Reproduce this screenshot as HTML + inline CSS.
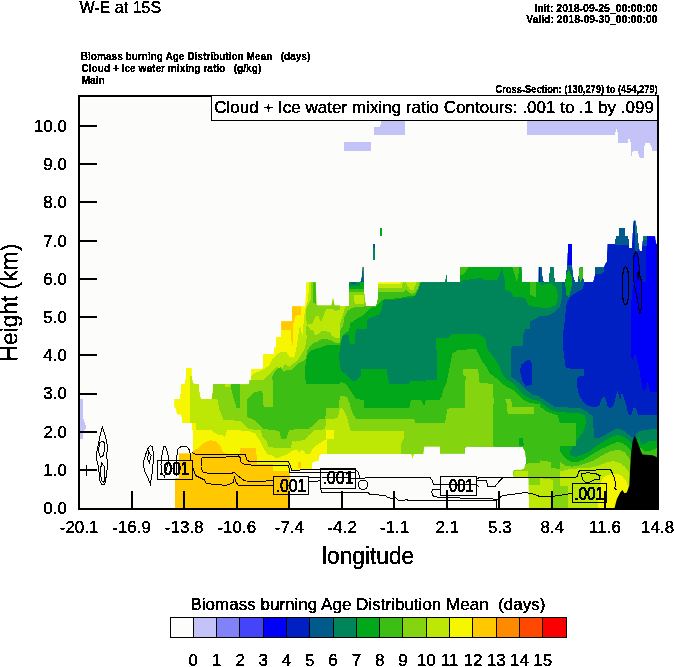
<!DOCTYPE html>
<html><head><meta charset="utf-8">
<style>
html,body{margin:0;padding:0;background:#fff;width:674px;height:667px;overflow:hidden}
svg{display:block;will-change:transform}
text{font-family:"Liberation Sans",sans-serif;fill:#000;stroke:#000;stroke-width:0.35px;white-space:pre;filter:url(#bin)}
</style></head><body>
<svg width="674" height="667" viewBox="0 0 674 667">
<defs><filter id="bin" x="-0.05" y="-0.25" width="1.1" height="1.5"><feComponentTransfer><feFuncA type="discrete" tableValues="0 1"/></feComponentTransfer></filter></defs>
<!-- titles -->
<text id="t_title" x="79.40" y="13" font-size="17" textLength="81.83" lengthAdjust="spacingAndGlyphs">W-E at 15S</text>
<text style="stroke-width:0.3px" id="t_init" x="534.30" y="11.6" font-size="11.5" font-weight="bold" textLength="123.20" lengthAdjust="spacingAndGlyphs">Init: 2018-09-25_00:00:00</text>
<text style="stroke-width:0.3px" id="t_valid" x="526.13" y="23.4" font-size="11.5" font-weight="bold" textLength="131.37" lengthAdjust="spacingAndGlyphs">Valid: 2018-09-30_00:00:00</text>
<text style="stroke-width:0.3px" id="t_l1" x="80.80" y="59.5" font-size="11" font-weight="bold" textLength="229.54" lengthAdjust="spacingAndGlyphs">Biomass burning Age Distribution Mean   (days)</text>
<text style="stroke-width:0.3px" id="t_l2" x="81.40" y="71.7" font-size="11" font-weight="bold" textLength="179.90" lengthAdjust="spacingAndGlyphs">Cloud + Ice water mixing ratio   (g/kg)</text>
<text style="stroke-width:0.3px" id="t_l3" x="81.40" y="83.9" font-size="11" font-weight="bold" textLength="23.44" lengthAdjust="spacingAndGlyphs">Main</text>
<text style="stroke-width:0.3px" id="t_cross" x="495.62" y="92.7" font-size="10" font-weight="bold" textLength="162.08" lengthAdjust="spacingAndGlyphs">Cross-Section: (130,279) to (454,279)</text>

<!-- plot background -->
<rect x="79" y="96" width="579" height="413" fill="#fcfcfa"/>

<g id="plotfill">
<defs>
<clipPath id="blob"><polygon points="0,0 674,0 674,667 0,667"/></clipPath>
<clipPath id="t0"><rect x="170" y="360" width="70" height="70"/></clipPath>
<clipPath id="u0"><polygon points="185.9,367.9 191.8,367.9 191.8,375.7 192.6,381.0 194.1,384.1 198.9,384.1 199.4,391.5 201.0,398.8 211.4,398.8 212.5,393.6 213.0,384.1 240.0,384.1 240.0,430.0 192.0,430.0 192.0,423.0 182.1,423.0 181.5,417.7 181.0,414.6 176.8,414.6 175.8,407.7 174.2,407.7 174.2,398.8 180.0,398.8 180.0,393.6 181.0,393.6 181.0,384.1 184.7,384.1 184.7,379.4 185.9,379.4"/></clipPath>
<clipPath id="t1"><rect x="170" y="430" width="70" height="80"/></clipPath>
<clipPath id="u1"><polygon points="192.8,430.0 240.0,430.0 240.0,510.0 175.0,510.0 175.0,478.0 179.0,478.0 179.0,453.4 192.8,453.4"/></clipPath>
<clipPath id="t2"><rect x="240" y="280" width="100" height="100"/></clipPath>
<clipPath id="u2"><polygon points="250.5,380.0 251.2,368.5 262.5,368.5 263.2,353.5 273.7,353.5 274.5,346.7 276.0,346.7 276.0,337.0 280.5,337.0 281.2,331.0 281.2,321.2 291.7,321.2 291.7,306.2 305.2,306.2 306.0,282.2 315.7,282.2 316.5,305.5 331.5,305.5 333.0,298.0 334.5,305.5 340.0,305.5 340.0,380.0"/></clipPath>
<clipPath id="t3"><rect x="240" y="380" width="100" height="90"/></clipPath>
<clipPath id="u3"><polygon points="240.0,384.2 248.9,384.2 249.6,380.0 340.0,380.0 340.0,454.2 321.0,454.2 319.5,455.7 319.2,460.6 312.6,462.3 312.0,470.1 240.0,470.1"/></clipPath>
<clipPath id="t4"><rect x="240" y="470" width="100" height="40"/></clipPath>
<clipPath id="u4"><polygon points="240.0,470.0 289.8,470.0 289.8,510.0 240.0,510.0"/></clipPath>
<clipPath id="t5"><rect x="340" y="260" width="100" height="100"/></clipPath>
<clipPath id="u5"><polygon points="340.0,305.7 349.0,305.7 349.0,282.2 360.2,282.2 361.7,276.5 362.5,266.7 363.7,266.7 364.0,282.2 364.7,297.5 366.2,305.7 376.0,305.7 377.5,299.7 378.2,282.2 440.0,282.2 440.0,360.0 340.0,360.0"/></clipPath>
<clipPath id="t6"><rect x="440" y="260" width="100" height="100"/></clipPath>
<clipPath id="u6"><polygon points="440.0,281.7 445.2,281.7 446.0,275.0 446.7,275.0 447.5,281.7 459.5,281.7 460.2,267.0 521.7,267.0 522.5,281.7 538.2,281.7 538.5,267.0 540.0,267.0 540.0,360.0 440.0,360.0"/></clipPath>
<clipPath id="t7"><rect x="340" y="350" width="100" height="110"/></clipPath>
<clipPath id="u7"><polygon points="340.0,350.0 440.0,350.0 440.0,446.5 424.2,446.5 423.3,454.0 414.3,454.0 412.6,458.9 411.0,454.0 340.0,454.0"/></clipPath>
<clipPath id="t8"><rect x="440" y="350" width="100" height="110"/></clipPath>
<clipPath id="u8"><polygon points="440.0,350.0 540.0,350.0 540.0,460.1 525.8,460.1 525.0,451.5 522.5,447.4 466.4,446.5 464.8,449.0 464.8,453.5 440.0,453.5"/></clipPath>
<clipPath id="t9"><rect x="440" y="460" width="100" height="50"/></clipPath>
<clipPath id="u9"><polygon points="525.8,460.0 540.0,460.0 540.0,510.0 529.1,510.0 528.5,478.0 513.6,476.8 513.1,472.0 514.2,469.7 521.4,469.7 524.3,468.5 525.5,463.7"/></clipPath>
<clipPath id="t10"><rect x="540" y="215" width="118" height="120"/></clipPath>
<clipPath id="u10"><polygon points="540.0,267.2 541.8,267.2 542.7,278.0 543.6,281.6 549.0,281.6 549.9,267.2 553.5,267.2 554.4,278.0 555.3,281.6 565.2,281.6 566.1,274.4 567.0,265.4 567.9,243.8 572.0,243.8 572.0,265.4 573.3,276.2 575.1,281.6 577.8,281.6 578.7,274.4 579.6,267.2 582.8,267.2 583.2,278.0 584.1,281.6 593.1,281.6 594.9,274.4 594.9,267.2 603.9,267.2 604.8,264.5 606.6,261.8 607.5,243.8 615.0,243.8 615.0,238.9 615.9,238.9 615.9,235.9 618.6,235.9 618.6,228.0 625.3,228.0 625.3,235.9 628.3,235.9 628.3,238.9 629.4,238.9 629.4,248.1 631.8,248.1 632.7,229.4 633.6,220.4 635.4,220.4 637.2,229.4 639.0,247.4 639.9,251.0 641.7,251.0 642.9,236.2 655.1,236.2 656.0,243.8 658.7,243.8 658.7,335.0 540.0,335.0"/></clipPath>
<clipPath id="t11"><rect x="540" y="330" width="118" height="100"/></clipPath>
<clipPath id="u11"><polygon points="540.0,330.0 660.0,330.0 660.0,430.1 540.0,430.1"/></clipPath>
<clipPath id="t12"><rect x="540" y="430" width="118" height="80"/></clipPath>
<clipPath id="u12"><polygon points="540.0,430.0 660.0,430.0 660.0,509.9 540.0,509.9"/></clipPath>
<clipPath id="t13"><rect x="560" y="415" width="98" height="95"/></clipPath>
<clipPath id="u13"><polygon points="560.0,415.0 658.0,415.0 658.0,510.0 560.0,510.0"/></clipPath>
</defs>
<g clip-path="url(#blob)" shape-rendering="crispEdges">
<g clip-path="url(#t0)"><g clip-path="url(#u0)">
<polygon fill="#f6f600" points="185.9,367.9 191.8,367.9 191.8,375.7 192.6,381.0 194.1,384.1 198.9,384.1 199.4,391.5 201.0,398.8 211.4,398.8 212.5,393.6 213.0,384.1 240.0,384.1 240.0,430.0 192.0,430.0 192.0,423.0 182.1,423.0 181.5,417.7 181.0,414.6 176.8,414.6 175.8,407.7 174.2,407.7 174.2,398.8 180.0,398.8 180.0,393.6 181.0,393.6 181.0,384.1 184.7,384.1 184.7,379.4 185.9,379.4"/>
<polygon fill="#bde704" points="189.9,375.7 191.8,375.7 192.6,381.0 194.1,384.1 198.9,384.1 199.4,391.5 201.0,398.8 212.0,398.8 213.0,384.1 240.0,384.1 240.0,430.0 196.2,430.0 196.2,423.0 189.9,423.0"/>
<polygon fill="#84d410" points="212.5,393.6 213.0,384.1 224.6,384.1 225.6,387.3 229.3,387.3 230.9,384.1 240.0,384.1 240.0,420.9 223.5,419.8 221.4,414.6 219.3,409.3 217.7,399.9 216.2,398.8 212.0,398.8"/>
<polygon fill="#3cbe14" points="230.9,384.1 240.0,384.1 240.0,408.3 236.1,407.7 235.1,402.0 233.0,396.7 231.9,391.5 230.9,387.3"/>
</g></g>
<g clip-path="url(#t1)"><g clip-path="url(#u1)">
<polygon fill="#f6f600" points="192.8,430.0 240.0,430.0 240.0,510.0 175.0,510.0 175.0,478.0 179.0,478.0 179.0,453.4 192.8,453.4"/>
<polygon fill="#bde704" points="212.0,430.0 227.0,430.0 225.8,434.2 224.6,437.2 222.8,435.4 216.8,434.2 213.2,431.8"/>
<polygon fill="#ffc800" points="175.0,510.0 175.0,478.0 179.0,478.0 179.0,453.4 192.8,453.4 192.8,451.6 195.8,449.2 198.8,448.0 203.0,443.2 206.0,442.0 210.8,440.2 215.6,441.4 220.4,445.6 222.8,452.2 227.6,454.0 240.0,454.0 240.0,510.0"/>
</g></g>
<g clip-path="url(#t2)"><g clip-path="url(#u2)">
<polygon fill="#f6f600" points="250.5,380.0 251.2,368.5 262.5,368.5 263.2,353.5 273.7,353.5 274.5,346.7 276.0,346.7 276.0,337.0 280.5,337.0 281.2,331.0 281.2,321.2 291.7,321.2 291.7,306.2 305.2,306.2 306.0,282.2 315.7,282.2 316.5,305.5 331.5,305.5 333.0,298.0 334.5,305.5 340.0,305.5 340.0,380.0"/>
<polygon fill="#ffc800" points="281.2,321.2 291.7,321.2 291.7,306.2 300.7,306.2 300.7,314.5 295.5,316.0 294.0,320.5 293.2,325.0 293.2,344.5 291.7,344.5 291.0,331.0 289.5,329.5 281.2,329.5"/>
<polygon fill="#bde704" points="309.0,282.2 340.0,282.2 340.0,380.0 250.5,380.0 251.2,376.0 255.0,373.0 262.5,370.0 267.0,367.0 270.0,364.0 273.0,358.0 276.0,355.0 280.5,352.0 286.5,352.0 289.5,356.5 294.0,358.0 295.5,352.0 297.7,340.0 299.2,328.0 300.7,326.5 302.2,337.0 303.0,329.5 304.5,314.5 306.0,307.0 308.2,299.5"/>
<polygon fill="#84d410" points="310.5,282.2 340.0,282.2 340.0,310.0 336.0,310.7 330.0,308.5 326.2,309.2 324.0,314.5 321.0,322.0 318.0,315.2 315.0,317.5 312.0,323.5 306.7,325.0 306.0,310.0 307.5,305.5 310.5,299.5"/>
<polygon fill="#84d410" points="306.7,325.0 310.5,329.5 313.5,331.0 315.0,335.5 318.0,334.0 321.0,331.0 325.5,331.0 330.0,332.5 333.0,337.0 340.0,338.5 340.0,380.0 264.0,380.0 267.0,376.0 270.0,373.0 273.0,370.0 276.0,367.0 282.0,368.5 285.0,364.0 289.5,367.0 292.5,364.0 297.0,361.0 300.0,356.5 304.5,349.0 306.0,343.0 306.7,337.0 306.0,329.5"/>
<polygon fill="#3cbe14" points="313.2,282.2 315.7,282.2 316.5,305.5 313.5,302.5"/>
<polygon fill="#3cbe14" points="340.0,343.0 336.0,343.0 330.0,340.0 324.0,338.5 321.0,339.2 318.0,341.5 313.5,343.0 310.5,346.0 307.5,350.5 306.0,358.0 303.0,361.0 297.0,364.0 294.0,367.0 291.0,370.0 286.5,370.0 283.5,371.5 280.5,367.0 276.0,370.0 273.0,374.5 271.5,380.0 340.0,380.0"/>
<polygon fill="#00a81a" points="340.0,344.5 330.0,344.5 324.0,346.0 321.0,347.5 315.0,349.0 310.5,350.5 307.5,355.0 306.0,361.0 305.2,367.0 305.2,380.0 340.0,380.0"/>
<polygon fill="#00845a" points="339.0,352.0 340.0,352.0 340.0,361.0 339.0,361.0"/>
</g></g>
<g clip-path="url(#t3)"><g clip-path="url(#u3)">
<polygon fill="#f6f600" points="240.0,384.2 248.9,384.2 249.6,380.0 340.0,380.0 340.0,454.2 321.0,454.2 319.5,455.7 319.2,460.6 312.6,462.3 312.0,470.1 240.0,470.1"/>
<polygon fill="#ffc800" points="240.0,447.5 256.3,447.5 256.8,464.3 273.1,464.3 273.1,470.1 240.0,470.1"/>
<polygon fill="#ffc800" points="297.9,462.3 300.8,462.3 300.8,467.5 297.9,467.5"/>
<polygon fill="#bde704" points="240.0,380.0 340.0,380.0 340.0,454.2 327.2,454.2 327.2,438.6 333.9,438.6 333.9,430.3 326.2,430.3 326.1,439.3 323.1,440.8 318.6,443.8 312.7,448.2 309.7,454.2 306.0,454.2 302.3,449.7 298.6,452.7 297.1,449.7 293.4,449.7 291.9,451.2 287.5,454.2 283.0,455.7 277.1,458.6 272.6,455.7 267.4,454.2 263.7,448.2 260.8,442.3 254.8,433.4 248.9,431.2 240.0,430.4"/>
<polygon fill="#84d410" points="340.0,380.0 340.0,408.2 337.6,418.4 326.2,418.9 325.2,429.3 314.2,430.3 308.5,435.5 305.4,439.6 295.0,441.7 292.7,440.8 290.4,448.2 277.1,448.2 268.2,446.8 266.7,440.8 262.3,436.4 260.8,430.4 248.9,429.0 243.0,423.0 240.0,420.1 240.0,380.0"/>
<polygon fill="#3cbe14" points="272.6,380.0 340.0,380.0 340.0,395.0 338.7,408.0 326.2,408.5 325.2,418.9 318.9,419.5 313.7,425.1 307.5,429.4 295.0,429.4 289.0,430.4 286.0,439.3 280.8,439.3 280.1,431.9 275.6,430.4 263.7,429.0 259.3,424.5 254.8,420.1 247.4,417.1 247.4,399.3 254.8,391.9 262.3,391.1 263.7,406.7 272.6,406.7"/>
<polygon fill="#00a81a" points="306.0,380.0 340.0,380.0 340.0,383.7 306.0,383.7"/>
</g></g>
<g clip-path="url(#t4)"><g clip-path="url(#u4)">
<polygon fill="#f6f600" points="240.0,470.0 289.8,470.0 289.8,510.0 240.0,510.0"/>
<polygon fill="#ffc800" points="240.0,470.0 273.0,470.0 273.0,470.8 289.8,470.8 289.8,510.0 240.0,510.0"/>
</g></g>
<g clip-path="url(#t5)"><g clip-path="url(#u5)">
<polygon fill="#f6f600" points="340.0,305.7 349.0,305.7 349.0,282.2 360.2,282.2 361.7,276.5 362.5,266.7 363.7,266.7 364.0,282.2 364.7,297.5 366.2,305.7 376.0,305.7 377.5,299.7 378.2,282.2 440.0,282.2 440.0,360.0 340.0,360.0"/>
<polygon fill="#bde704" points="340.0,305.7 349.0,305.7 349.0,282.2 364.0,282.2 364.7,297.5 366.2,305.7 376.0,305.7 377.5,299.7 378.2,284.0 400.0,284.0 401.5,282.2 440.0,282.2 440.0,360.0 341.5,360.0 341.5,329.0 340.0,323.0"/>
<polygon fill="#84d410" points="346.0,305.7 349.0,305.7 349.0,282.2 364.0,282.2 364.7,297.5 366.2,305.7 376.0,305.7 377.5,299.7 378.2,287.7 401.5,287.7 403.0,282.2 406.0,282.2 407.5,286.2 410.5,290.0 413.5,290.0 415.0,286.2 416.5,282.2 440.0,282.2 440.0,360.0 340.0,360.0 340.0,323.0 342.2,317.0 344.5,309.5"/>
<polygon fill="#bde704" points="353.5,294.5 364.0,294.5 364.0,303.5 355.0,303.5 353.5,300.5"/>
<polygon fill="#3cbe14" points="340.0,330.5 343.0,326.0 344.5,317.0 347.5,311.0 352.0,308.0 358.0,306.5 364.0,306.5 366.2,305.7 376.0,305.7 377.5,299.7 378.2,292.2 403.0,292.2 406.0,290.0 409.0,292.2 412.0,294.5 415.0,292.2 418.0,288.5 419.5,282.2 440.0,282.2 440.0,360.0 340.0,360.0"/>
<polygon fill="#3cbe14" points="349.0,282.2 364.0,282.2 364.0,292.2 349.0,292.2"/>
<polygon fill="#00a81a" points="340.0,360.0 340.0,344.0 343.0,335.0 349.0,330.5 350.5,323.0 355.0,320.0 362.5,315.5 367.0,311.0 370.0,308.0 376.0,306.5 379.0,303.5 382.0,300.5 385.0,299.0 400.0,298.2 404.5,296.7 415.0,296.0 419.5,291.5 421.0,282.2 440.0,282.2 440.0,360.0"/>
<polygon fill="#00a81a" points="349.0,282.2 364.0,282.2 364.0,288.5 349.0,288.5"/>
<polygon fill="#00845a" points="340.0,360.0 340.0,350.0 343.0,335.0 349.0,335.0 349.7,344.0 355.0,344.0 355.7,329.0 367.0,329.0 367.0,320.0 371.5,317.0 379.0,314.7 382.0,309.5 383.5,300.5 400.0,299.3 404.5,297.5 412.0,298.2 415.0,296.0 418.0,290.0 421.0,282.2 440.0,282.2 440.0,338.0 436.0,338.0 436.0,360.0"/>
<polygon fill="#00845a" points="349.0,282.2 360.2,282.2 360.2,285.5 349.0,286.2"/>
<polygon fill="#005a8a" points="351.2,282.2 356.5,282.2 355.0,284.3 352.7,284.3"/>
<polygon fill="#005a8a" points="360.2,282.2 361.7,276.5 362.5,266.7 363.7,266.7 364.0,282.2"/>
</g></g>
<g clip-path="url(#t6)"><g clip-path="url(#u6)">
<polygon fill="#00a81a" points="440.0,281.7 445.2,281.7 446.0,275.0 446.7,275.0 447.5,281.7 459.5,281.7 460.2,267.0 521.7,267.0 522.5,281.7 538.2,281.7 538.5,267.0 540.0,267.0 540.0,360.0 440.0,360.0"/>
<polygon fill="#3cbe14" points="460.2,267.0 468.5,267.0 465.5,272.0 462.5,275.0 460.2,275.0"/>
<polygon fill="#3cbe14" points="512.0,267.0 519.5,267.0 518.0,278.0 516.5,281.0 515.0,275.0"/>
<polygon fill="#3cbe14" points="530.0,281.7 536.0,281.7 536.0,297.5 530.0,294.5"/>
<polygon fill="#00845a" points="440.0,281.7 445.2,281.7 446.0,275.0 446.7,275.0 447.5,281.7 461.0,281.7 464.0,280.2 480.5,278.0 483.5,279.5 497.0,279.5 500.0,273.5 501.5,267.5 503.0,273.5 504.5,279.5 505.2,290.0 510.5,291.5 513.5,297.5 521.0,296.7 525.5,299.0 528.5,305.0 533.0,306.5 540.0,306.5 540.0,360.0 440.0,360.0"/>
<polygon fill="#00a81a" points="440.0,338.0 449.0,338.0 452.0,333.5 477.5,333.5 485.0,338.0 488.0,351.5 493.2,353.0 494.0,360.0 440.0,360.0"/>
<polygon fill="#3cbe14" points="452.0,350.0 476.0,349.2 479.0,356.0 480.5,360.0 451.2,360.0"/>
<polygon fill="#005a8a" points="540.0,316.2 530.0,321.5 530.0,329.0 525.5,329.0 523.2,335.0 523.2,345.5 512.0,345.5 510.5,353.0 510.5,360.0 540.0,360.0"/>
<polygon fill="#0000f8" points="538.5,267.0 540.0,267.0 540.0,281.7 538.5,281.7"/>
</g></g>
<g clip-path="url(#t7)"><g clip-path="url(#u7)">
<polygon fill="#bde704" points="340.0,350.0 440.0,350.0 440.0,446.5 424.2,446.5 423.3,454.0 414.3,454.0 412.6,458.9 411.0,454.0 340.0,454.0"/>
<polygon fill="#84d410" points="340.0,350.0 440.0,350.0 440.0,454.0 401.1,454.0 401.1,444.1 403.5,439.1 404.4,430.9 350.7,430.9 346.6,416.0 342.5,408.6 340.0,407.8"/>
<polygon fill="#3cbe14" points="340.0,350.0 440.0,350.0 440.0,422.6 415.1,422.6 414.3,419.3 355.7,418.5 352.4,412.7 349.9,404.5 347.4,397.9 343.3,395.4 340.0,396.2"/>
<polygon fill="#00a81a" points="340.0,350.0 440.0,350.0 440.0,399.5 425.8,400.3 424.2,406.1 420.9,400.3 411.0,400.3 409.3,407.8 363.9,407.8 363.9,400.3 355.7,398.7 349.9,389.6 345.0,383.0 340.0,382.2"/>
<polygon fill="#00845a" points="340.0,350.0 437.4,350.0 436.5,379.7 426.6,379.7 425.0,382.2 422.5,380.5 411.0,380.5 409.3,383.8 389.5,383.8 387.9,379.7 387.0,369.0 361.5,369.0 360.6,376.4 356.5,380.5 351.6,380.5 346.6,374.8 341.7,371.5 340.0,366.5"/>
</g></g>
<g clip-path="url(#t8)"><g clip-path="url(#u8)">
<polygon fill="#3cbe14" points="440.0,350.0 540.0,350.0 540.0,460.1 525.8,460.1 525.0,451.5 522.5,447.4 466.4,446.5 464.8,449.0 464.8,453.5 440.0,453.5"/>
<polygon fill="#84d410" points="440.0,453.5 440.0,423.4 445.0,422.6 447.4,408.6 464.8,407.8 465.6,376.4 463.1,374.8 463.1,369.0 478.0,369.0 479.6,383.0 492.8,383.8 493.6,399.5 492.8,445.7 494.5,446.5 466.4,446.5 464.8,449.0 464.8,453.5"/>
<polygon fill="#84d410" points="505.2,398.7 511.0,399.5 512.6,406.9 534.1,406.9 534.1,414.4 507.7,414.4 506.8,404.5"/>
<polygon fill="#00a81a" points="440.0,350.0 458.2,350.0 452.4,353.3 449.9,366.5 446.6,383.0 443.3,389.6 441.7,396.2 440.0,399.5"/>
<polygon fill="#00a81a" points="476.3,350.0 487.9,350.0 494.5,358.3 499.4,366.5 502.7,374.8 506.0,378.9 512.6,383.0 517.6,388.0 520.9,392.9 525.8,396.2 532.4,399.5 540.0,401.2 540.0,404.5 529.1,402.8 522.5,399.5 517.6,394.6 512.6,389.6 506.0,386.3 501.1,383.0 496.1,378.1 489.5,373.1 486.2,366.5 481.3,359.9"/>
<polygon fill="#00a81a" points="519.2,438.3 522.5,438.3 524.2,445.7 519.2,445.7"/>
<polygon fill="#00845a" points="487.9,350.0 511.0,350.0 511.0,376.4 519.2,383.0 525.8,389.6 532.4,394.6 540.0,396.2 540.0,401.2 532.4,399.5 525.8,396.2 520.9,392.9 517.6,388.0 512.6,383.0 506.0,378.9 502.7,374.8 499.4,366.5 494.5,358.3"/>
<polygon fill="#005a8a" points="511.0,350.0 540.0,350.0 540.0,396.2 532.4,394.6 525.8,389.6 519.2,383.0 511.0,376.4"/>
<polygon fill="#0020c4" points="520.9,364.9 525.8,360.7 529.9,359.9 531.6,363.2 532.4,374.8 531.6,384.7 525.8,386.3 522.5,381.4 520.0,371.5"/>
</g></g>
<g clip-path="url(#t9)"><g clip-path="url(#u9)">
<polygon fill="#3cbe14" points="525.8,460.0 540.0,460.0 540.0,510.0 529.1,510.0 528.5,478.0 513.6,476.8 513.1,472.0 514.2,469.7 521.4,469.7 524.3,468.5 525.5,463.7"/>
<polygon fill="#84d410" points="513.0,472.0 520.0,466.0 531.0,462.6 540.0,462.6 540.0,510.0 513.0,510.0"/>
<polygon fill="#bde704" points="514.0,470.5 528.0,470.5 528.0,477.5 514.0,477.5"/>
<polygon fill="#bde704" points="529.0,485.0 540.0,485.0 540.0,510.0 529.0,510.0"/>
</g></g>
<g clip-path="url(#t10)"><g clip-path="url(#u10)">
<polygon fill="#0020c4" points="540.0,267.2 541.8,267.2 542.7,278.0 543.6,281.6 549.0,281.6 549.9,267.2 553.5,267.2 554.4,278.0 555.3,281.6 565.2,281.6 566.1,274.4 567.0,265.4 567.9,243.8 572.0,243.8 572.0,265.4 573.3,276.2 575.1,281.6 577.8,281.6 578.7,274.4 579.6,267.2 582.8,267.2 583.2,278.0 584.1,281.6 593.1,281.6 594.9,274.4 594.9,267.2 603.9,267.2 604.8,264.5 606.6,261.8 607.5,243.8 615.0,243.8 615.0,238.9 615.9,238.9 615.9,235.9 618.6,235.9 618.6,228.0 625.3,228.0 625.3,235.9 628.3,235.9 628.3,238.9 629.4,238.9 629.4,248.1 631.8,248.1 632.7,229.4 633.6,220.4 635.4,220.4 637.2,229.4 639.0,247.4 639.9,251.0 641.7,251.0 642.9,236.2 655.1,236.2 656.0,243.8 658.7,243.8 658.7,335.0 540.0,335.0"/>
<polygon fill="#005a8a" points="540.0,267.2 541.8,267.2 542.7,278.0 543.6,281.6 549.0,281.6 549.9,267.2 553.5,267.2 554.4,278.0 555.3,281.6 565.2,281.6 566.1,274.4 567.0,265.4 572.4,265.4 573.3,276.2 575.1,281.6 577.8,281.6 578.7,274.4 579.6,267.2 582.8,267.2 583.2,278.0 584.1,281.6 583.2,288.8 576.0,292.4 571.5,296.0 567.0,301.4 565.2,315.8 563.4,335.0 540.0,335.0"/>
<polygon fill="#00845a" points="540.0,281.6 561.6,281.6 562.5,290.6 561.6,299.6 559.8,306.8 554.4,312.2 547.2,315.8 540.0,315.8"/>
<polygon fill="#00845a" points="549.9,267.2 553.5,267.2 554.4,278.0 555.3,281.6 549.0,281.6"/>
<polygon fill="#00a81a" points="540.0,285.2 550.8,283.4 556.2,287.0 558.0,296.0 556.2,305.0 549.0,307.7 540.0,307.7"/>
<polygon fill="#00a81a" points="566.1,274.4 568.8,269.0 571.5,276.2 571.5,287.0 568.8,297.8 566.1,294.2 565.2,283.4"/>
<polygon fill="#3cbe14" points="579.2,267.2 582.8,267.2 583.2,276.2 580.5,281.6 578.7,276.2"/>
<polygon fill="#005a8a" points="594.9,267.2 603.9,267.2 604.8,270.8 601.2,274.4 594.9,274.4"/>
<polygon fill="#005a8a" points="615.0,244.7 615.0,238.9 615.9,238.9 615.9,235.9 618.6,235.9 618.6,228.0 625.3,228.0 625.3,235.9 628.3,235.9 628.3,238.9 629.4,238.9 629.4,244.7"/>
<polygon fill="#0000f8" points="646.5,236.1 658.7,236.1 658.7,335.0 630.9,335.0 631.4,301.0 633.0,283.9 646.0,281.9"/>
<polygon fill="#005a8a" points="635.2,220.4 635.4,220.4 637.2,229.4 639.0,247.4 638.1,251.0 635.2,251.0"/>
<polygon fill="#00845a" points="634.5,220.4 635.7,220.4 636.8,225.8 637.2,234.8 635.4,234.8"/>
<polygon fill="#005a8a" points="635.0,234.8 637.3,234.8 638.6,247.4 638.1,251.0 635.4,251.0"/>
<polygon fill="#00845a" points="642.9,236.2 647.1,236.2 647.1,240.0 642.9,240.0"/>
<polygon fill="#005a8a" points="642.9,240.0 647.1,240.0 647.1,245.9 642.9,245.9"/>
<polygon fill="#0000f8" points="567.9,243.8 572.0,243.8 572.0,265.4 567.9,265.4"/>
</g></g>
<g clip-path="url(#t11)"><g clip-path="url(#u11)">
<polygon fill="#005a8a" points="540.0,330.0 660.0,330.0 660.0,430.1 540.0,430.1"/>
<polygon fill="#0020c4" points="563.1,330.0 660.0,330.0 660.0,422.6 650.4,420.8 646.8,418.1 641.5,419.0 637.9,413.7 636.1,408.3 633.5,408.3 630.8,416.3 628.1,413.7 626.3,404.8 623.7,397.7 621.9,392.3 620.1,401.2 619.2,395.9 617.4,390.5 614.8,401.2 613.0,406.6 609.4,408.3 607.7,406.6 605.9,399.4 604.1,396.8 601.4,399.4 599.6,404.8 597.0,406.6 591.6,406.6 586.3,404.8 582.7,401.2 579.2,395.9 577.4,387.0 577.4,378.1 579.2,376.3 583.6,376.3 583.6,369.2 565.8,368.3 564.9,362.0 563.1,347.8"/>
<polygon fill="#0000f8" points="630.8,330.0 660.0,330.0 660.0,392.3 650.4,392.3 647.7,381.6 645.9,388.8 643.3,391.4 641.5,383.4 639.7,370.9 637.0,358.5 635.2,353.1 632.6,360.3 630.8,356.7"/>
<polygon fill="#00845a" points="540.0,397.7 543.6,399.4 548.9,403.0 554.2,406.6 580.9,408.3 588.1,411.9 591.6,417.2 593.4,422.6 593.4,430.1 540.0,430.1"/>
<polygon fill="#00a81a" points="540.0,401.2 543.6,404.8 550.7,410.1 557.8,411.9 582.7,413.7 586.3,419.0 588.1,430.1 540.0,430.1"/>
<polygon fill="#3cbe14" points="540.0,406.6 547.1,411.9 557.8,415.5 559.6,422.6 575.6,422.6 577.4,430.1 540.0,430.1"/>
<polygon fill="#00845a" points="614.8,430.1 617.4,427.0 621.9,430.1"/>
</g></g>
<g clip-path="url(#t12)"><g clip-path="url(#u12)">
<polygon fill="#3cbe14" points="540.0,430.0 660.0,430.0 660.0,509.9 540.0,509.9"/>
<polygon fill="#00a81a" points="566.7,430.0 639.7,430.0 636.1,440.7 631.7,447.8 629.0,449.6 623.7,451.4 618.3,453.1 607.7,454.9 598.8,456.7 589.8,458.5 580.9,461.2 570.3,462.0 563.1,458.5 560.5,453.1 561.4,447.8 564.9,440.7"/>
<polygon fill="#00845a" points="575.6,430.0 639.7,430.0 634.4,438.9 632.6,442.5 623.7,444.2 614.8,446.0 604.1,447.8 593.4,450.5 584.5,453.1 579.2,455.8 573.8,456.7 569.4,454.9 570.3,449.6 573.8,444.2 580.9,437.1 586.3,431.8"/>
<polygon fill="#005a8a" points="593.4,430.0 639.7,430.0 636.1,437.1 629.0,438.9 620.1,437.1 611.2,440.7 602.3,440.7 593.4,437.1"/>
<polygon fill="#00845a" points="639.7,430.0 660.0,430.0 660.0,442.5 646.8,444.2 642.4,440.7"/>
<polygon fill="#00a81a" points="641.5,440.7 646.8,444.2 660.0,442.5 660.0,456.7 641.5,456.7"/>
<polygon fill="#84d410" points="540.0,460.3 550.7,462.0 550.7,468.3 575.6,469.2 580.9,467.4 591.6,465.6 602.3,463.8 613.0,462.0 621.9,460.3 627.2,458.5 630.8,458.5 630.8,509.9 540.0,509.9"/>
<polygon fill="#bde704" points="540.0,478.1 553.4,479.8 553.4,509.9 540.0,509.9"/>
<polygon fill="#bde704" points="568.5,474.5 604.1,472.7 607.7,465.6 616.6,465.6 618.3,476.3 618.3,509.9 568.5,509.9"/>
<polygon fill="#f6f600" points="607.7,478.1 614.8,474.5 618.3,478.1 620.1,488.8 618.3,495.9 614.8,508.0 607.7,508.0"/>
</g></g>
<g clip-path="url(#t13)"><g clip-path="url(#u13)">
<polygon fill="#005a8a" points="560.0,415.0 658.0,415.0 658.0,510.0 560.0,510.0"/>
<polygon fill="#00845a" points="560.0,415.0 592.4,415.0 593.0,422.2 593.6,429.4 594.2,438.4 599.6,437.8 604.4,435.4 608.0,433.0 612.8,430.6 617.6,428.2 623.5,430.6 629.5,435.4 633.1,437.8 635.5,436.6 635.9,433.8 640.0,431.0 645.5,429.7 658.0,429.0 658.0,510.0 560.0,510.0"/>
<polygon fill="#00a81a" points="560.0,415.0 585.2,415.0 585.8,422.2 584.0,430.6 578.0,439.0 573.2,446.2 569.6,452.2 570.8,455.8 575.6,457.0 582.8,454.6 590.0,451.0 596.0,446.2 602.0,442.6 608.0,439.0 612.8,436.6 617.6,434.8 622.4,436.0 627.1,439.0 631.9,443.8 633.1,446.2 636.0,445.0 638.6,436.6 641.4,444.8 645.5,443.4 649.7,440.7 658.0,440.7 658.0,510.0 560.0,510.0"/>
<polygon fill="#3cbe14" points="560.0,422.8 575.6,422.8 575.6,446.2 560.0,446.2"/>
<polygon fill="#3cbe14" points="560.0,451.0 562.4,454.6 567.2,459.4 572.0,461.8 578.0,461.8 584.0,459.4 590.0,455.8 596.0,452.2 602.0,448.6 608.0,446.2 612.8,443.8 617.6,442.0 622.4,443.2 627.1,446.2 630.7,451.0 632.0,454.6 636.0,452.0 641.4,447.6 645.5,451.7 652.4,450.3 658.0,447.6 658.0,510.0 560.0,510.0"/>
<polygon fill="#84d410" points="560.0,461.8 564.8,465.4 572.0,466.6 579.2,465.4 586.4,463.0 593.6,460.6 599.6,457.0 605.6,453.4 611.6,451.0 616.4,449.8 620.0,449.8 624.7,452.2 628.3,457.0 630.7,461.8 632.0,470.0 658.0,470.0 658.0,510.0 560.0,510.0"/>
<polygon fill="#bde704" points="560.0,471.4 569.6,469.0 579.2,468.4 588.8,467.8 596.0,466.6 602.0,464.2 608.0,461.8 614.0,461.2 620.0,463.0 624.7,466.6 628.3,471.4 630.7,477.4 631.0,510.0 560.0,510.0"/>
<polygon fill="#84d410" points="560.0,486.0 568.3,486.0 568.3,510.0 560.0,510.0"/>
<polygon fill="#f6f600" points="600.8,482.1 603.2,477.4 608.0,475.0 612.8,473.8 617.6,473.8 622.4,476.2 626.0,481.0 628.3,487.0 629.0,495.0 629.0,510.0 598.0,510.0 598.0,490.0"/>
</g></g>
</g>

<g shape-rendering="crispEdges">
<polygon fill="#c3c3f8" points="381,121 405,121 405,134.8 374.2,134.8 374.2,126.9 380.1,126.9 380.7,123.9 381,123.9"/>
<polygon fill="#c3c3f8" points="343.9,142.1 370.8,142.1 370.8,150.6 343.9,150.6"/>
<polygon fill="#c3c3f8" points="526.9,121 657,121 656.8,150.7 652.3,150.7 651.9,148.2 649.9,143.3 645,143.3 644.2,148.2 643.8,158.4 639.7,158 638.5,153.9 638.1,151.1 633.2,151.1 632.3,152.3 631.9,156.4 631.1,156.4 630.7,142.5 629.9,139.2 629.1,138 628.3,139.2 627.9,142.5 618,142.5 618,132.7 617.2,132.3 616.8,129.4 616,129.4 615.2,133.9 614.8,134.7 526.9,134.7"/>
<polygon fill="#c3c3f8" points="80,398.8 83.1,398.8 83.1,418.4 84.5,421.8 85.5,425.1 85.5,429.2 84.5,430.5 83.1,430.5 83.1,438.6 80,438.6"/>
<rect x="380" y="228" width="2" height="8" fill="#00a81a"/>
<rect x="373" y="244" width="2" height="16" fill="#00845a"/>
<rect x="373" y="244" width="2" height="3.7" fill="#005a8a"/>
</g>
<polygon fill="#0000f8" shape-rendering="crispEdges" points="635.7,252 633.4,256.8 633.4,278.3 634.6,285.5 637,297.5 639.3,310.7 639.9,313 641.7,307 641.7,281.9 640,276 638.7,261.6 637.5,253.2"/>
<polygon fill="#000" points="614.5,508 616.9,499 620.2,492.4 622.4,489.9 624.4,493.2 626.8,492.4 629.3,485.8 630.1,469.3 631,454.5 632.6,441.3 634.3,436.3 635.9,438 638.4,444.6 640.9,451.2 642.5,454.5 652.4,455.3 656.5,457 657,457.8 657,508"/>
<g fill="none" stroke="#000" stroke-width="1" shape-rendering="crispEdges">
<path d="M102.3,427.1 L99.6,437.8 L96.9,452 L96.9,461 L98.7,468 L99.6,480.5 L102.3,485 L104.9,484.1 L106.7,473.4 L107.6,464.5 L106.7,455.6 L107.6,446.7 L105.8,437.8 L103.1,428.9 Z"/>
<path d="M102.3,441.4 L99.3,443.1 L98.7,452 L100.5,457.4 L103.1,455.6 L104.9,448.5 L104,442.3 Z"/>
<path d="M101.4,462.7 L100.5,471.6 L101.4,480.5 L104,482.3 L104.9,473.4 L104,466.3 Z"/>
<path d="M86.2,465.4 L86.2,476.1"/>
<path d="M150.3,445.8 L148,448.5 L145.9,453.8 L143.7,461 L144.1,469.8 L146.8,475.2 L150.3,484.1 L152.1,473.4 L153,464.5 L153.9,455.6 L152.1,446.7 Z"/>
<path d="M148.5,451.2 L147.6,459.2 L149.4,462.7 L151.2,455.6 Z"/>
<path d="M163.7,446.7 L161.9,455.6 L161,464.5 L161.9,473.4 L164.6,477 L167.2,466.3 L169,459.2 L167.2,452 L165.5,446.7 Z"/>
<path d="M177,476 L176,462 L178,449 L181,446.7 L187,446.7 L189.5,450 L190.5,455 L191,460"/>
<path d="M192.1,452.5 L195.7,454.2 L245.5,454.2 L246.4,459.6 L249.1,461.4 L288.3,461.4 L290,464.9 L291.8,470.3 L320.7,469.2 L355.5,469.5 L358,472 L360,477.8"/>
<path d="M193,468.5 L195.7,475.6 L204.6,480.1 L206.4,483.6 L225.9,485.4 L233.1,482.7 L234.5,477.4 L235.7,481.8 L238.4,485.4 L274,485.4"/>
<path d="M201.9,457.8 L229.5,456.9 L238.4,456 L240.2,457.8 L241.1,462.3 L245.5,464.9 L288.3,465.8 L289.1,468.5 L289.6,472.8 L355.5,472.8"/>
<path d="M201.9,457.8 L201,466.7 L202.8,472 L209.9,473.8 L231.3,473.8 L234,472 L236.6,474.7 L241.1,478.3 L244.6,480.9 L259.8,481.8 L274,480.1"/>
<path d="M308.3,477.3 L319.8,477.3 L320.7,476.4"/>
<path d="M308.3,481.8 L319.8,480.9"/>
<path d="M322,477.6 L355.5,478.1 L429.8,477.4 L432.5,480.5 L433.4,484.9 L476.1,484.9 L479,486.7"/>
<circle cx="363" cy="484.8" r="4.8"/>
<path d="M320.7,488 L321.6,492.4 L367.9,492.4 L369.7,494.2 L385.3,495.6 L388,497.7 L392.5,498.3 L395.1,497.4 L397.8,500 L404.9,500 L406.7,499.2 L408.5,501 L496.2,500.5 L496.2,508"/>
<path d="M332.3,488 L351.9,488"/>
<path d="M440.5,489.4 L432.5,489.4 L431.6,492 L433.4,496.5 L440.5,497.4 L469,498.3 L476.1,498.3 L497.5,499.2 L498.3,498.6 L502.5,495.5 L510.8,494.5 L521.2,493.4 L523.2,492.4 L531.5,493.4 L539.9,496.5 L552.3,496.5 L572,493.4"/>
<path d="M476.1,480 L486,480 L488,486.5 L495,486.5 L500.4,479.9 L503,477.6"/>
<path d="M476.1,479 L479,477.8 L573.1,477.4 L577.2,476.8 L579.3,470.6 L610.5,469.5 L612.6,473.7 L614.6,478.9 L615.7,484.1 L614.6,488.2 L616.7,490.3"/>
<path d="M581.4,473.7 L587.6,472.7 L596,473.7 L600.1,475.8 L599.1,479.9 L593.9,479.9 L589.7,482 L585.6,483 L582.4,478.9 Z"/>
<ellipse cx="625.6" cy="285.9" rx="3.4" ry="19"/>
<path d="M635.7,252 L633.4,256.8 L633.4,278.3 L634.6,285.5 L637,297.5 L639.3,310.7 L639.9,313 L641.7,307 L641.7,281.9 L640,276 L638.7,261.6 L637.5,253.2 Z"/>
</g>
<rect x="637.3" y="271.7" width="2" height="7.8" fill="#000"/>
<g fill="none" stroke="#000" stroke-width="1" shape-rendering="crispEdges">
<rect x="157.5" y="460.5" width="35" height="18.5"/>
<rect x="273.5" y="476" width="35" height="18.5"/>
<rect x="320.5" y="468.5" width="35" height="19.5"/>
<rect x="440.5" y="476" width="35.5" height="19"/>
<rect x="572.5" y="483.5" width="34" height="19"/>
</g>
<g font-size="18" style="stroke-width:0.9px">
<text style="stroke-width:0.8px" x="159.3" y="475.4" textLength="30.1" lengthAdjust="spacingAndGlyphs">.001</text>
<text style="stroke-width:0.8px" x="275.7" y="491.7" textLength="30.7" lengthAdjust="spacingAndGlyphs">.001</text>
<text style="stroke-width:0.8px" x="322.4" y="483.5" textLength="31.3" lengthAdjust="spacingAndGlyphs">.001</text>
<text style="stroke-width:0.8px" x="444.9" y="492" textLength="28.6" lengthAdjust="spacingAndGlyphs">.001</text>
<text style="stroke-width:0.8px" x="574.2" y="499.7" textLength="30" lengthAdjust="spacingAndGlyphs">.001</text>
</g>

</g><!--/plotfill-->

<!-- frame -->
<g fill="#000" shape-rendering="crispEdges"><rect x="78" y="95" width="581" height="2"/><rect x="78" y="508" width="581" height="2"/><rect x="78" y="95" width="2" height="415"/><rect x="657" y="95" width="2" height="415"/></g>
<!-- info box -->
<rect x="211.5" y="95.5" width="446" height="25" fill="#fff" stroke="#000" stroke-width="1"/>
<text id="t_cloud" x="214.20" y="112.7" font-size="17" textLength="439.74" lengthAdjust="spacingAndGlyphs">Cloud + Ice water mixing ratio Contours: .001 to .1 by .099</text>

<!-- y ticks -->
<g fill="#000" shape-rendering="crispEdges">
<rect x="80" y="125" width="17" height="2"/>
<rect x="80" y="163" width="17" height="2"/>
<rect x="80" y="201" width="17" height="2"/>
<rect x="80" y="240" width="17" height="2"/>
<rect x="80" y="278" width="17" height="2"/>
<rect x="80" y="316" width="17" height="2"/>
<rect x="80" y="354" width="17" height="2"/>
<rect x="80" y="393" width="17" height="2"/>
<rect x="80" y="431" width="17" height="2"/>
<rect x="80" y="469" width="17" height="2"/>
</g>
<g font-size="17" text-anchor="end">
<text x="67" y="132">10.0</text>
<text x="67" y="170.2">9.0</text>
<text x="67" y="208.4">8.0</text>
<text x="67" y="246.6">7.0</text>
<text x="67" y="284.8">6.0</text>
<text x="67" y="323">5.0</text>
<text x="67" y="361.2">4.0</text>
<text x="67" y="399.4">3.0</text>
<text x="67" y="437.6">2.0</text>
<text x="67" y="475.8">1.0</text>
<text x="67" y="514">0.0</text>
</g>
<text id="t_h" transform="translate(17.4,361.6) rotate(-90)" x="0" y="0" font-size="24.5" textLength="118" lengthAdjust="spacingAndGlyphs">Height (km)</text>

<!-- x ticks -->
<g fill="#000" shape-rendering="crispEdges">
<rect x="131" y="491" width="2" height="17"/>
<rect x="183" y="491" width="2" height="17"/>
<rect x="236" y="491" width="2" height="17"/>
<rect x="288" y="491" width="2" height="17"/>
<rect x="341" y="491" width="2" height="17"/>
<rect x="393" y="491" width="2" height="17"/>
<rect x="446" y="491" width="2" height="17"/>
<rect x="498" y="491" width="2" height="17"/>
<rect x="551" y="491" width="2" height="17"/>
<rect x="604" y="491" width="2" height="17"/>
</g>
<g font-size="17" text-anchor="middle">
<text x="79" y="533">-20.1</text>
<text x="131.6" y="533">-16.9</text>
<text x="184.2" y="533">-13.8</text>
<text x="236.8" y="533">-10.6</text>
<text x="289.4" y="533">-7.4</text>
<text x="342" y="533">-4.2</text>
<text x="394.6" y="533">-1.1</text>
<text x="447.2" y="533">2.1</text>
<text x="499.8" y="533">5.3</text>
<text x="552.4" y="533">8.4</text>
<text x="605" y="533">11.6</text>
<text x="657.6" y="533">14.8</text>
</g>
<text id="t_lon" x="321.94" y="564" font-size="23.5" textLength="92.31" lengthAdjust="spacingAndGlyphs">longitude</text>

<!-- colorbar -->
<text id="t_cbt" x="190.40" y="610.3" font-size="16" textLength="355.10" lengthAdjust="spacingAndGlyphs">Biomass burning Age Distribution Mean  (days)</text>
<g shape-rendering="crispEdges">
<rect x="170.00" y="617" width="23.29" height="21" fill="#fdfdfb"/>
<rect x="193.29" y="617" width="23.29" height="21" fill="#c3c3f8"/>
<rect x="216.59" y="617" width="23.29" height="21" fill="#8282f8"/>
<rect x="239.88" y="617" width="23.29" height="21" fill="#4444f8"/>
<rect x="263.18" y="617" width="23.29" height="21" fill="#0000f8"/>
<rect x="286.47" y="617" width="23.29" height="21" fill="#0020c4"/>
<rect x="309.76" y="617" width="23.29" height="21" fill="#005a8a"/>
<rect x="333.06" y="617" width="23.29" height="21" fill="#00845a"/>
<rect x="356.35" y="617" width="23.29" height="21" fill="#00a81a"/>
<rect x="379.65" y="617" width="23.29" height="21" fill="#3cbe14"/>
<rect x="402.94" y="617" width="23.29" height="21" fill="#84d410"/>
<rect x="426.24" y="617" width="23.29" height="21" fill="#bde704"/>
<rect x="449.53" y="617" width="23.29" height="21" fill="#f6f600"/>
<rect x="472.82" y="617" width="23.29" height="21" fill="#ffc800"/>
<rect x="496.12" y="617" width="23.29" height="21" fill="#ff8a00"/>
<rect x="519.41" y="617" width="23.29" height="21" fill="#ff4800"/>
<rect x="542.71" y="617" width="23.29" height="21" fill="#fa0000"/>
<g fill="#000">
<rect x="170" y="617" width="397" height="1"/><rect x="170" y="637" width="397" height="1"/>
<rect x="170" y="617" width="1" height="21"/>
<rect x="193" y="617" width="1" height="21"/>
<rect x="216" y="617" width="1" height="21"/>
<rect x="239" y="617" width="1" height="21"/>
<rect x="263" y="617" width="1" height="21"/>
<rect x="286" y="617" width="1" height="21"/>
<rect x="309" y="617" width="1" height="21"/>
<rect x="333" y="617" width="1" height="21"/>
<rect x="356" y="617" width="1" height="21"/>
<rect x="379" y="617" width="1" height="21"/>
<rect x="402" y="617" width="1" height="21"/>
<rect x="426" y="617" width="1" height="21"/>
<rect x="449" y="617" width="1" height="21"/>
<rect x="472" y="617" width="1" height="21"/>
<rect x="496" y="617" width="1" height="21"/>
<rect x="519" y="617" width="1" height="21"/>
<rect x="542" y="617" width="1" height="21"/>
<rect x="566" y="617" width="1" height="21"/>
</g></g>
<g font-size="17" text-anchor="middle">
<text x="193.3" y="665.6">0</text>
<text x="216.6" y="665.6">1</text>
<text x="239.9" y="665.6">2</text>
<text x="263.2" y="665.6">3</text>
<text x="286.5" y="665.6">4</text>
<text x="309.8" y="665.6">5</text>
<text x="333.1" y="665.6">6</text>
<text x="356.4" y="665.6">7</text>
<text x="379.7" y="665.6">8</text>
<text x="403" y="665.6">9</text>
<text x="426.3" y="665.6">10</text>
<text x="449.6" y="665.6">11</text>
<text x="472.9" y="665.6">12</text>
<text x="496.2" y="665.6">13</text>
<text x="519.5" y="665.6">14</text>
<text x="542.8" y="665.6">15</text>
</g>
</svg>
</body></html>
